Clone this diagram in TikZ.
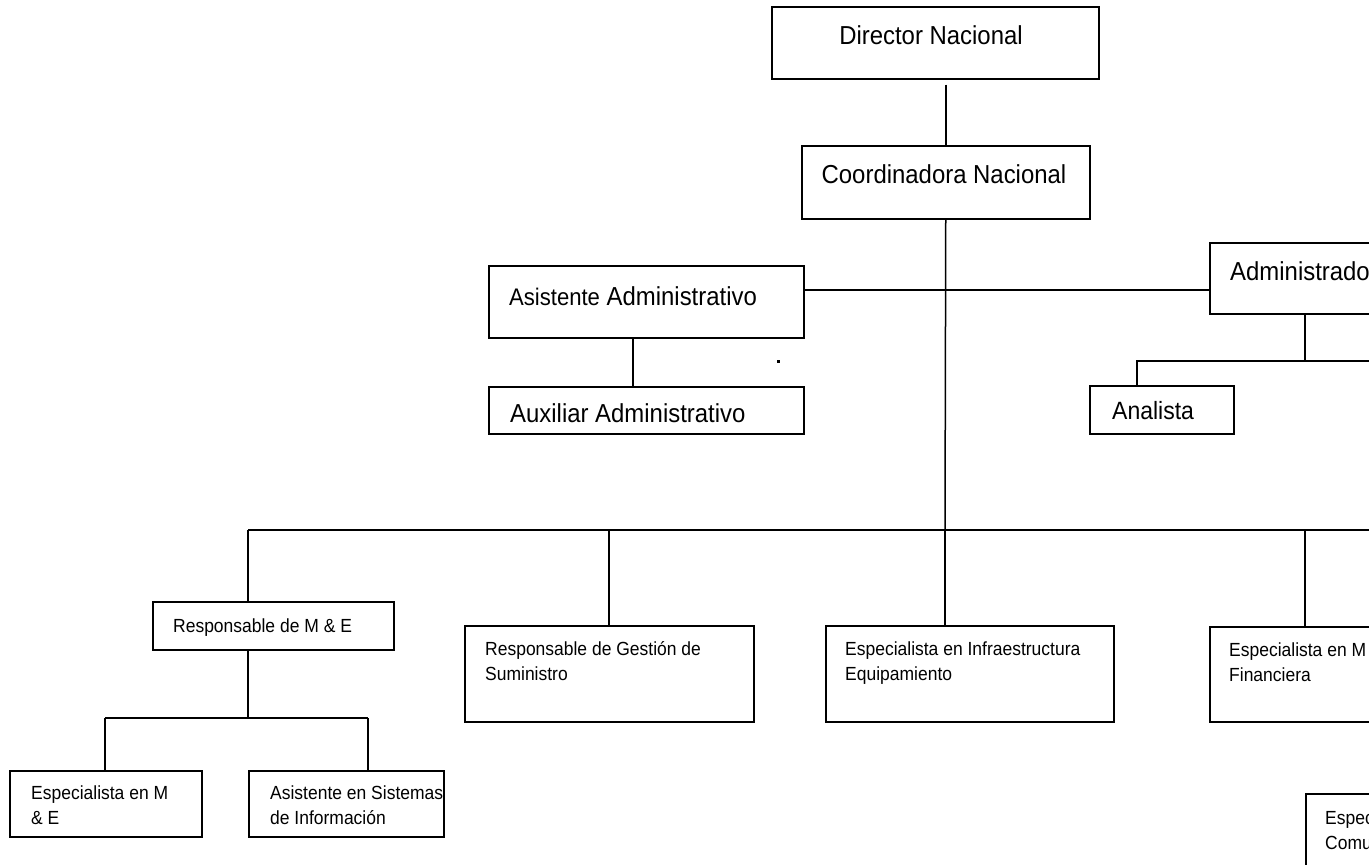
\documentclass[tikz,border=0pt]{standalone}
\usepackage{fontspec}
\setmainfont{Liberation Sans}[FakeStretch=0.92]
\newcommand\bigsz{\fontsize{26}{30}\selectfont}
\newcommand\smallsz{\fontsize{19}{25}\selectfont}
\newcommand\twolines[2]{\parbox[t]{320pt}{\raggedright #1\\#2}}
\begin{document}
\begin{tikzpicture}[x=1pt,y=-1pt,
  unit/.style={draw, line width=1.5pt, inner sep=0pt, anchor=north west},
  link/.style={line width=1.5pt},
  lbl/.style={inner sep=0pt, anchor=base west, font=\bigsz},
  clbl/.style={inner sep=0pt, anchor=base, font=\bigsz},
  slbl/.style={inner sep=0pt, anchor=base west, font=\smallsz}]
\useasboundingbox (0,0) rectangle (1369,865);
\clip (0,0) rectangle (1369,865);

% boxes
\node[unit, minimum width=327pt, minimum height=72pt] (dir)   at (771,6)    {};
\node[unit, minimum width=288pt, minimum height=73pt] (coord) at (801,145)  {};
\node[unit, minimum width=315pt, minimum height=72pt] (asis)  at (488,265)  {};
\node[unit, minimum width=315pt, minimum height=47pt] (aux)   at (488,386)  {};
\node[unit, minimum width=230pt, minimum height=71pt] (admin) at (1209,242) {};
\node[unit, minimum width=144pt, minimum height=48pt] (anal)  at (1089,385) {};
\node[unit, minimum width=241pt, minimum height=48pt] (rme)   at (152,601)  {};
\node[unit, minimum width=289pt, minimum height=96pt] (rgs)   at (464,625)  {};
\node[unit, minimum width=288pt, minimum height=96pt] (einf)  at (825,625)  {};
\node[unit, minimum width=230pt, minimum height=95pt] (emf)   at (1209,626) {};
\node[unit, minimum width=192pt, minimum height=66pt] (eme)   at (9,770)    {};
\node[unit, minimum width=195pt, minimum height=66pt] (asi)   at (248,770)  {};
\node[unit, minimum width=150pt, minimum height=120pt] (ecom) at (1305,793) {};

% labels
\node[clbl] (tdir)   at (931,44)   {Director Nacional};
\node[clbl] (tcoord) at (944,183)  {Coordinadora Nacional};
\node[lbl]  (tasis)  at (509,305)  {{\fontsize{24}{28}\selectfont Asistente} Administrativo};
\node[lbl]  (taux)   at (510,422)  {Auxiliar Administrativo};
\node[lbl]  (tadmin) at (1230,280) {Administrado};
\node[lbl, font=\fontsize{25}{29}\selectfont] (tanal) at (1112,419) {Analista};
\node[slbl] (trme)   at (173,632)  {Responsable de M \& E};
\node[slbl] (trgs)   at (485,655)  {\twolines{Responsable de Gestión de}{Suministro}};
\node[slbl] (teinf)  at (845,655)  {\twolines{Especialista en Infraestructura}{Equipamiento}};
\node[slbl] (temf)   at (1229,656) {\twolines{Especialista en M}{Financiera}};
\node[slbl] (teme)   at (31,799)   {\twolines{Especialista en M}{\& E}};
\node[slbl] (tasi)   at (270,799)  {\twolines{Asistente en Sistemas}{de Información}};
\node[slbl] (tecom)  at (1325,824) {\twolines{Espec}{Comu}};

% junction points
\coordinate (dtop) at ([yshift=-5pt]coord.north |- dir.south);
\coordinate (bus)  at (945,530);
\coordinate (busL) at (248,530);
\coordinate (busR) at (1400,530);
\coordinate (bGs)  at (609,530);
\coordinate (bMf)  at (1305,530);
\coordinate (side) at (945,290);
\coordinate (ab)   at (1305,361);
\coordinate (al)   at (1137,361);
\coordinate (ar)   at (1400,361);
\coordinate (mj)   at (248,718);
\coordinate (mjL)  at (105,718);
\coordinate (mjR)  at (368,718);
\coordinate (ax)   at (633,300);

% connectors
\draw[link] (dtop) -- (coord.north);
\draw[link] (coord.south) -- (bus);
\draw[link] (asis.east |- side) -- (admin.west |- side);
\draw[link] (asis.south -| ax) -- (aux.north -| ax);
\draw[link] (admin.south -| ab) -- (ab);
\draw[link] (anal.north -| al) -- (al) -- (ar);
\draw[link] (busL) -- (busR);
\draw[link] (busL) -- (rme.north -| busL);
\draw[link] (bGs) -- (rgs.north -| bGs);
\draw[link] (bus) -- (einf.north -| bus);
\draw[link] (bMf) -- (emf.north -| bMf);
\draw[link] (rme.south -| mj) -- (mj);
\draw[link] (mjL) -- (mjR);
\draw[link] (mjL) -- (eme.north -| mjL);
\draw[link] (mjR) -- (asi.north -| mjR);

% stray mark
\fill (776.5,359.5) rectangle (779.5,362.5);
\end{tikzpicture}
\end{document}
